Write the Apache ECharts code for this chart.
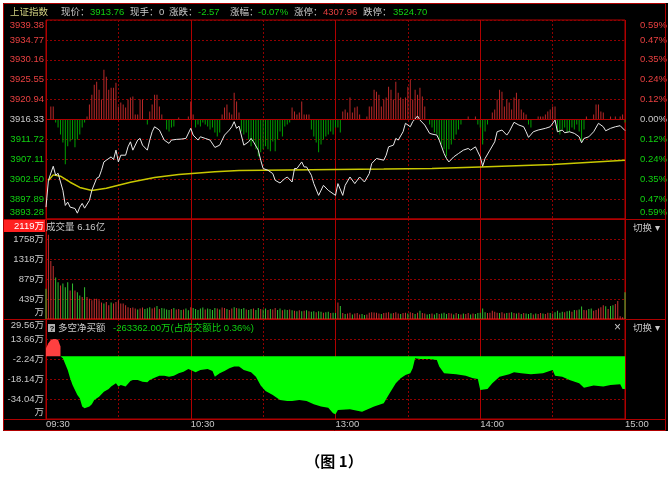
<!DOCTYPE html>
<html><head><meta charset="utf-8">
<script src="https://cdn.jsdelivr.net/npm/echarts@6/dist/echarts.min.js"></script>
<style>html,body{margin:0;padding:0;background:#fff}#c{width:672px;height:478px}</style>
</head><body><div id="c"></div>
<script>
// ---------------- data ----------------
const prevClose = 3916.33;
const priceTicks = [3893.28,3897.89,3902.50,3907.11,3911.72,3916.33,3920.94,3925.55,3930.16,3934.77,3939.38];
const volumeTopLabel = '2119万';
const netTicks = [-49.94,-34.04,-18.14,-2.24,13.66,29.56];
const timeLabels = {0:'09:30',60:'10:30',120:'13:00',180:'14:00',240:'15:00'};

const priceMinutes = [0,1,3,4,5,7,8,9,10,12,13,14,15,16,18,19,21,22,23,24,25,27,28,29,30,31,33,34,35,36,38,39,40,42,43,44,45,47,48,49,51,52,54,56,58,60,61,63,64,66,68,70,72,74,76,77,78,79,80,82,84,85,86,88,89,90,92,94,95,97,99,100,102,103,104,106,107,108,110,111,113,115,117,120,121,123,124,126,128,130,132,134,135,137,140,141,142,144,145,146,148,149,151,152,154,155,157,159,160,162,163,165,166,167,169,171,173,175,176,178,179,180,181,182,184,186,187,189,191,192,194,196,198,199,200,202,204,207,209,211,212,214,215,217,219,221,222,223,225,227,229,231,232,234,236,238,240];
const priceValues = [3896.03,3902.24,3905.50,3903.41,3903.87,3899.92,3896.42,3897.19,3896.03,3895.72,3894.63,3896.03,3896.89,3895.79,3897.59,3899.92,3902.71,3903.01,3904.57,3906.50,3906.90,3907.67,3907.06,3909.23,3906.50,3908.06,3908.06,3910.00,3911.16,3909.23,3911.56,3911.95,3910.39,3909.23,3911.56,3913.49,3914.65,3913.89,3912.72,3911.56,3910.79,3911.56,3911.72,3911.79,3911.95,3914.28,3912.72,3911.56,3912.33,3911.95,3911.56,3909.86,3910.39,3912.72,3913.89,3914.65,3915.82,3914.28,3914.80,3910.39,3911.16,3911.95,3911.16,3909.23,3906.90,3904.97,3904.57,3903.80,3902.24,3901.62,3902.64,3903.01,3901.85,3904.97,3904.97,3906.50,3905.34,3905.34,3903.41,3901.48,3898.75,3901.08,3899.92,3898.75,3901.48,3898.75,3901.08,3903.01,3901.48,3903.01,3901.85,3903.80,3906.13,3907.30,3906.90,3908.06,3910.00,3910.39,3911.95,3911.56,3913.49,3915.45,3914.65,3915.82,3917.14,3916.21,3915.05,3913.12,3912.95,3912.72,3911.56,3908.46,3907.30,3906.50,3907.67,3908.46,3909.23,3909.62,3909.23,3910.00,3908.83,3907.67,3905.50,3907.30,3909.23,3911.16,3913.49,3913.89,3912.72,3913.49,3915.68,3915.05,3914.65,3913.49,3912.19,3913.49,3913.89,3914.28,3914.65,3916.21,3913.49,3913.89,3913.26,3913.49,3913.12,3912.33,3910.93,3911.95,3912.33,3913.49,3915.45,3914.65,3913.72,3914.28,3914.65,3914.89,3913.76];

const avgMinutes = [1,3,6,10,14,19,25,35,45,55,70,80,100,120,140,160,180,210,240];
const avgValues = [3902.2,3903.5,3903.2,3901.8,3900.6,3899.9,3900.4,3901.8,3902.9,3903.6,3904.2,3904.5,3904.65,3904.75,3904.85,3904.97,3905.35,3905.9,3906.9];

// buy/sell force bars around the previous close line (+ red, - green)
const forceValues = [
0,0,13,13,-3,-8,-15,-23,-45,-27,
-22,-20,-28,-20,-15,-8,-3,3,15,25,
35,38,30,20,50,43,30,32,32,37,
13,17,15,12,20,22,23,5,5,20,
20,0,-5,8,15,25,25,13,5,0,
-10,-12,-8,-7,0,2,0,0,0,3,
18,5,-8,-5,-7,-3,-5,-7,-10,-8,
-13,-17,-13,5,12,15,7,5,27,18,
7,-12,-15,-13,-20,-27,-22,-30,-37,-33,
-30,-27,-30,-32,-22,-32,-20,-12,-17,-7,
-5,-3,12,8,5,7,18,5,5,5,
-10,-17,-23,-33,-25,-20,-17,-15,-12,-15,
-8,-8,-13,8,10,7,22,7,12,13,
5,0,0,3,13,13,30,28,25,13,
20,22,33,30,20,38,27,22,20,22,
33,40,20,30,25,32,23,13,0,-5,
-8,-13,-15,-20,-25,-30,-37,-30,-25,-20,
-15,-10,-5,0,0,3,0,0,3,-5,
-8,-25,-12,-5,0,7,10,20,30,28,
13,20,17,10,22,27,20,10,7,5,
-5,-8,0,0,3,3,3,5,8,10,
13,13,-12,-15,-10,-8,-13,-12,-8,-10,
-5,-12,-22,-10,3,0,0,5,15,15,
8,7,0,0,3,0,3,0,3,5,
-3];

// volume in 万, and direction per minute (r = up, g = down)
const volumeValues = [
663,1851,1274,1166,914,806,734,778,698,806,
626,778,626,590,518,482,698,482,447,410,
447,447,410,360,339,375,302,360,339,375,
410,339,339,302,260,240,250,230,210,230,
250,220,235,260,230,250,288,220,240,230,
210,200,220,240,210,220,200,210,230,190,
260,240,220,200,230,250,210,230,220,200,
240,230,210,250,240,220,200,230,260,240,
230,220,240,210,200,220,230,200,240,220,
210,230,200,220,210,240,200,230,190,210,
200,210,190,180,170,190,170,180,190,170,
160,170,150,170,160,140,150,160,130,140,
130,360,288,130,110,120,140,100,120,130,
100,110,90,100,140,150,144,140,120,110,
130,140,150,120,130,150,120,110,130,140,
120,150,130,110,140,180,130,120,100,110,
120,100,130,110,120,140,110,130,120,100,
130,110,100,120,110,130,100,120,110,130,
140,230,150,130,140,180,160,140,130,150,
120,130,140,150,130,120,140,110,130,120,
110,130,100,120,110,130,120,110,140,130,
120,150,180,140,160,150,170,180,160,200,
190,210,274,200,190,220,230,180,200,230,
260,302,280,220,288,302,330,396,60,40,
590];
const volumeDir = "grrrggrggg"+"rgrggrgrrr"+"rrrrgrrgrr"+"rrrrrrrrgr"+"rgggrrgrgg"+"ggrgrrgrgg"+"rgggggrggg"+"grgrrgrrgr"+"gggrggrggr"+"ggrgrrggrg"+"grgrgrgrgr"+"ggrggrggrg"+"grgrgrrgrr"+"rggrrrrrrg"+"rrrgrrrgrr"+"grrgrgrrgg"+"rggrgggrrg"+"rgrgrrgrgg"+"gggrrrrrgr"+"rgrgrgrgrg"+"ggrgrrgrrg"+"rggggrggrg"+"rggrrggrrr"+"rrgrggrrrr"+"g";

// net buy (多空净买额), 万
const netUpMinutes = [0,1,2,3,4,5,6];
const netUpValues = [6.3,10.3,12.9,13.7,13.7,13.0,7.6];
const netDownMinutes = [6,7,9,10,11,13,14,15,16,18,19,20,22,24,26,27,29,30,31,33,35,36,38,40,42,43,45,47,49,51,53,55,57,59,60,62,64,67,69,70,72,74,76,78,80,82,85,87,89,91,94,97,100,102,105,108,111,114,117,119,120,121,126,131,136,140,142,145,147,149,151,152,153,155,159,162,163,165,170,174,177,179,180,183,185,188,192,194,197,201,206,210,211,214,217,221,223,227,231,234,238,239,240];
const netDownValues = [0,-1.7,-11,-17.6,-22.9,-30.8,-33.5,-40.1,-41.4,-40.1,-38.3,-34.8,-32.2,-28.2,-26.1,-24.2,-21.6,-24.2,-22.9,-24.2,-19.7,-18.9,-18.9,-20.3,-20.8,-18.9,-17.1,-15.5,-15.5,-16.3,-15.5,-13.6,-12.3,-10.2,-11,-12.8,-11,-10.2,-11.8,-16.3,-13.6,-11.8,-9.6,-8.3,-8.3,-11,-12.8,-16.3,-23.4,-27.7,-30.8,-34.8,-35.6,-35.6,-34.8,-35.6,-38.3,-40.1,-40.9,-45.4,-46.2,-42.7,-42.2,-44.1,-40.1,-37.4,-30.8,-21.6,-17.6,-14.9,-13.6,-9.6,-1.7,-2.2,-2.2,-3,-8.3,-13.6,-14.4,-15.5,-17.6,-18.1,-26.9,-26.1,-21.6,-16.3,-14.4,-12.8,-13.6,-14.4,-13.6,-11,-15.5,-16.3,-18.9,-21.6,-25,-23.4,-24.2,-22.9,-22.4,-26.1,-26.1];

// ---------------- style ----------------
const FONT = '"Liberation Sans","Noto Sans CJK SC",sans-serif';
const FS = 9.5;
const RED_LBL = '#e84040', GREEN_LBL = '#10d010', GRAY = '#c8c8c8';
const DASH = '#900000', BORDER = '#b00000';
const zip = (a, b) => a.map((x, i) => [x, b[i]]);
const near = (a, b) => Math.abs(a - b) < 0.001;

function xPair(gi, labels) {
  return [
    {type:'value', gridIndex:gi, min:0, max:240, interval:30,
     axisLine:{show:false}, axisTick:{show:false},
     axisLabel: labels ? {show:true, margin:1, align:'left', color:GRAY, fontFamily:FONT, fontSize:FS,
        showMinLabel:true, showMaxLabel:true, hideOverlap:false,
        formatter: v => timeLabels[v] || ''} : {show:false},
     splitLine:{show:true, lineStyle:{color:DASH, type:[2,2], width:1}}},
    {type:'value', gridIndex:gi, min:0, max:240, interval:60,
     axisLine:{show:false}, axisTick:{show:false}, axisLabel:{show:false},
     splitLine:{show:true, lineStyle:{color:BORDER, type:'solid', width:1}}}
  ];
}
const priceMin = priceTicks[0], priceMax = priceTicks[priceTicks.length-1];
const edgeRich = {
  t:{padding:[10,0,0,0], fontFamily:FONT, fontSize:FS},
  b:{padding:[0,0,14,0], fontFamily:FONT, fontSize:FS}
};
function wrapEdge(v, s, min, max) {
  if (near(v, max)) return '{t|' + s + '}';
  if (near(v, min)) return '{b|' + s + '}';
  return s;
}
function priceColor(v) {
  v = parseFloat(v);
  if (near(v, prevClose)) return GRAY;
  return v > prevClose ? RED_LBL : GREEN_LBL;
}
const hiddenAxisParts = {axisLine:{show:false}, axisTick:{show:false}};

const grids = [
  {left:46, top:20, width:579, height:199},
  {left:46, top:219, width:579, height:100},
  {left:46, top:319, width:579, height:100}
].map(g => Object.assign(g, {show:true, borderColor:BORDER, borderWidth:1, backgroundColor:'transparent'}));

function txt(x, y, text, fill, opts) {
  return Object.assign({type:'text', x:x, y:y, silent:true, z:50,
    style:Object.assign({text:text, fill:fill, font: FS + 'px ' + FONT, textAlign:'left', textVerticalAlign:'middle'}, (opts||{}))});
}
function line(x1,y1,x2,y2,color){
  return {type:'line', silent:true, z:40, shape:{x1:x1,y1:y1,x2:x2,y2:y2}, style:{stroke:color, lineWidth:1}};
}

const graphics = [
  {type:'rect', silent:true, z:-100, shape:{x:3, y:3, width:665, height:428}, style:{fill:'#000'}},
  {type:'rect', silent:true, z:40, shape:{x:3.5, y:3.5, width:662, height:427}, style:{fill:'none', stroke:BORDER, lineWidth:1}},
  line(3, 219.5, 666, 219.5, BORDER),
  line(3, 319.5, 666, 319.5, BORDER),
  line(3, 419.5, 666, 419.5, BORDER),
  // header
  txt(10, 12, '上证指数', '#d0d080'),
  txt(61, 12, '现价：', GRAY), txt(90, 12, '3913.76', GREEN_LBL),
  txt(130, 12, '现手：', GRAY), txt(159, 12, '0', GRAY),
  txt(169, 12, '涨跌：', GRAY), txt(198, 12, '-2.57', GREEN_LBL),
  txt(230, 12, '涨幅：', GRAY), txt(258, 12, '-0.07%', GREEN_LBL),
  txt(294, 12, '涨停：', GRAY), txt(323, 12, '4307.96', RED_LBL),
  txt(363, 12, '跌停：', GRAY), txt(393, 12, '3524.70', GREEN_LBL),
  // volume panel
  {type:'rect', silent:true, z:45, shape:{x:4, y:220, width:41, height:12}, style:{fill:'#ff2020'}},
  txt(44, 226, volumeTopLabel, '#ffffff', {textAlign:'right'}),
  txt(46, 227, '成交量 6.16亿', GRAY),
  txt(633, 228, '切换 ▾', GRAY),
  // net buy panel
  {type:'rect', silent:true, z:45, shape:{x:48, y:324, width:7, height:8}, style:{fill:'#b0b0b0'}},
  txt(49.5, 328.5, '?', '#000', {font:'bold 8px ' + FONT}),
  txt(58, 328, '多空净买额', GRAY),
  txt(113, 328, '-263362.00万(占成交额比 0.36%)', GREEN_LBL),
  txt(614, 328, '×', GRAY, {font:'12px ' + FONT}),
  txt(633, 328, '切换 ▾', GRAY),
  // caption
  txt(334, 461, '（图 1）', '#000', {font:'bold 15px "Noto Sans CJK SC",sans-serif', textAlign:'center'})
];

const option = {
  animation:false,
  backgroundColor:'#ffffff',
  grid: grids,
  xAxis: [].concat(xPair(0,false), xPair(1,false), xPair(2,true)),
  yAxis: [
    {type:'value', gridIndex:0, position:'left', min:priceMin, max:priceMax, ...hiddenAxisParts, splitLine:{show:false},
     axisLabel:{customValues:priceTicks, showMinLabel:true, showMaxLabel:true, hideOverlap:false, margin:2,
       fontFamily:FONT, fontSize:FS, color:v => priceColor(v), rich:edgeRich,
       formatter:v => wrapEdge(v, (+v).toFixed(2), priceMin, priceMax)}},
    {type:'value', gridIndex:0, position:'right', min:priceMin, max:priceMax, ...hiddenAxisParts, splitLine:{show:false},
     axisLabel:{customValues:priceTicks, showMinLabel:true, showMaxLabel:true, hideOverlap:false, margin:15,
       fontFamily:FONT, fontSize:FS, color:v => priceColor(v), rich:edgeRich,
       formatter:v => wrapEdge(v, Math.abs((v - prevClose) / prevClose * 100).toFixed(2) + '%', priceMin, priceMax)}},
    {type:'value', gridIndex:0, min:-100, max:100, interval:20, ...hiddenAxisParts, axisLabel:{show:false},
     splitLine:{show:true, lineStyle:{color:DASH, type:[2,2], width:1}}},
    {type:'value', gridIndex:1, min:0, max:2197.5, interval:439.5, ...hiddenAxisParts,
     splitLine:{show:true, lineStyle:{color:DASH, type:[2,2], width:1}},
     axisLabel:{margin:2, color:GRAY, fontFamily:FONT, fontSize:FS, showMinLabel:true, showMaxLabel:true, hideOverlap:false, rich:edgeRich,
       formatter:v => v === 0 ? '{b|万}' : (v > 2000 ? '' : Math.floor(v) + '万')}},
    {type:'value', gridIndex:2, min:netTicks[0], max:netTicks[netTicks.length-1], ...hiddenAxisParts, splitLine:{show:false},
     axisLabel:{customValues:netTicks, margin:2, color:GRAY, fontFamily:FONT, fontSize:FS, showMinLabel:true, showMaxLabel:true, hideOverlap:false,
       rich:{t:{padding:[12,0,0,0], fontFamily:FONT, fontSize:FS}, b:{padding:[0,0,14,0], fontFamily:FONT, fontSize:FS}},
       formatter:v => near(v, netTicks[0]) ? '{b|万}' : (near(v, netTicks[netTicks.length-1]) ? '{t|' + (+v).toFixed(2) + '万}' : (+v).toFixed(2) + '万')}},
    {type:'value', gridIndex:2, min:0, max:100, interval:20, ...hiddenAxisParts, axisLabel:{show:false},
     splitLine:{show:true, lineStyle:{color:DASH, type:[2,2], width:1}}}
  ],
  series: [
    {type:'bar', xAxisIndex:0, yAxisIndex:2, barWidth:1, z:2,
     data: forceValues.map((v, i) => ({value:[i, v], itemStyle:{color: v >= 0 ? '#b82828' : '#00a000'}})),
     markLine:{silent:true, symbol:'none', label:{show:false}, lineStyle:{color:BORDER, type:'solid', width:1}, data:[{yAxis:0}]}},
    {type:'line', xAxisIndex:0, yAxisIndex:0, data:zip(avgMinutes, avgValues), symbol:'none', z:3,
     lineStyle:{color:'#c8c800', width:1.5}},
    {type:'line', xAxisIndex:0, yAxisIndex:0, data:zip(priceMinutes, priceValues), symbol:'none', z:4,
     lineStyle:{color:'#e8e8e8', width:1}},
    {type:'bar', xAxisIndex:2, yAxisIndex:3, barWidth:1,
     data: volumeValues.map((v, i) => ({value:[i, v], itemStyle:{color: volumeDir[i] === 'r' ? '#c83030' : '#30c030'}}))},
    {type:'line', xAxisIndex:4, yAxisIndex:4, data:zip(netUpMinutes, netUpValues), symbol:'none',
     lineStyle:{width:0}, areaStyle:{color:'#ff4040', opacity:1}},
    {type:'line', xAxisIndex:4, yAxisIndex:4, data:zip(netDownMinutes, netDownValues), symbol:'none',
     lineStyle:{width:0}, areaStyle:{color:'#00ff00', opacity:1}}
  ],
  graphic: {elements: graphics}
};
const chart = echarts.init(document.getElementById('c'), null, {renderer:'canvas'});
chart.setOption(option);
</script></body></html>
